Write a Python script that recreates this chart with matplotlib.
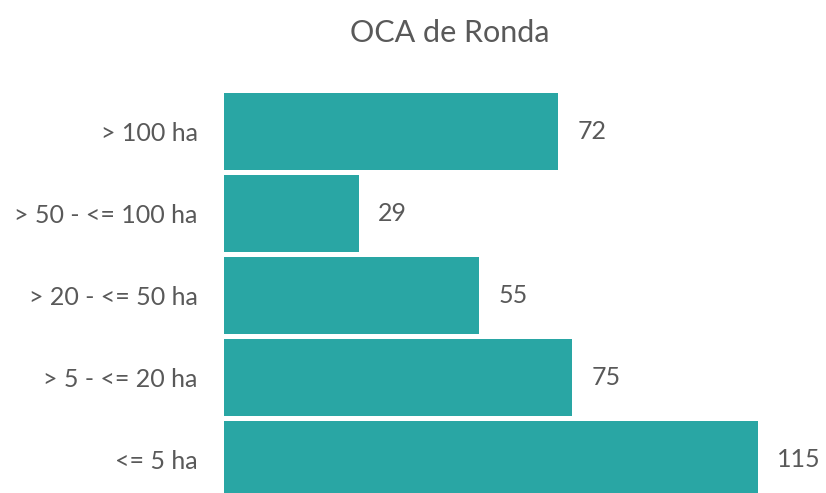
import matplotlib.pyplot as plt

categorias = ["<= 5 ha", "> 5 - <= 20 ha", "> 20 - <= 50 ha", "> 50 - <= 100 ha", "> 100 ha"]
valores = [115, 75, 55, 29, 72]

color_barra = "#29A6A4"
color_texto = "#595959"

plt.rcParams['font.family'] = ['Lato', 'DejaVu Sans']

fig = plt.figure(figsize=(8.26, 4.93), dpi=100)
ax = fig.add_axes([224 / 826, -7.5 / 493, 1 - 224 / 826, 410 / 493])

pos = list(range(len(categorias)))
ax.barh(pos, valores, height=0.94, color=color_barra)
ax.set_xlim(0, (826 - 224) / 4.643)
ax.set_ylim(-0.5, 4.5)

ax.set_yticks(pos)
ax.set_yticklabels(categorias, fontsize=18, color=color_texto)
ax.tick_params(axis='y', length=0, pad=19)
ax.set_xticks([])
for s in ax.spines.values():
    s.set_visible(False)

for y, v in zip(pos, valores):
    ax.annotate(str(v), (v, y), xytext=(14, 0), textcoords='offset points',
                va='center', ha='left', fontsize=18, color=color_texto)

fig.text(450 / 826, 1 - 33 / 493, "OCA de Ronda", ha='center', va='center',
         fontsize=22, color=color_texto)

fig.savefig("out.png", dpi=100)
